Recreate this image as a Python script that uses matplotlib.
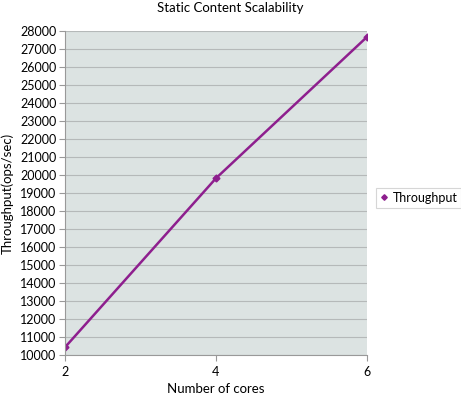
import numpy as np
import matplotlib.pyplot as plt

cores = [2, 4, 6]
throughput = [10430, 19820, 27670]
yticks = list(range(10000, 28001, 1000))
xticks = [2, 4, 6]

plt.rcParams['font.family'] = ['Lato', 'DejaVu Sans']

fig = plt.figure(figsize=(4.61, 3.96), dpi=100)
ax = fig.add_axes([0.141, 0.1035, 0.655, 0.8182])
ax.set_facecolor('#dce3e2')
ax.plot(cores, throughput, color='#8e1f8e', linewidth=1.8, marker='D', markersize=3.5,
        label='Throughput')
ax.set_xlim(2, 6)
ax.set_ylim(10000, 28000)
ax.set_xticks(xticks)
ax.set_yticks(yticks)
ax.tick_params(labelsize=9, length=4, color='#999999', pad=2)
ax.tick_params(axis='x', pad=4)
ax.grid(axis='y', color='#b5b9b9', linewidth=0.8)
ax.set_axisbelow(True)
for s in ['top', 'right']:
    ax.spines[s].set_visible(False)
for s in ['left', 'bottom']:
    ax.spines[s].set_color('#999999')
fig.text(0.469, 0.008, 'Number of cores', fontsize=9.5, ha='center', va='baseline')
ax.set_ylabel('Throughput(ops/sec)', fontsize=9.5, labelpad=5)
fig.suptitle('Static Content Scalability', fontsize=9.5, y=0.995)

leg = ax.legend(loc='center left', bbox_to_anchor=(1.01, 0.485), fontsize=9,
                frameon=True, fancybox=False, handlelength=0.6, handletextpad=0.4,
                borderpad=0.3, markerscale=0.8)
leg.get_frame().set_edgecolor('#cccccc')
leg.get_frame().set_linewidth(0.8)
for h in leg.get_lines():
    h.set_linestyle('none')

fig.savefig('out.png', dpi=100)
